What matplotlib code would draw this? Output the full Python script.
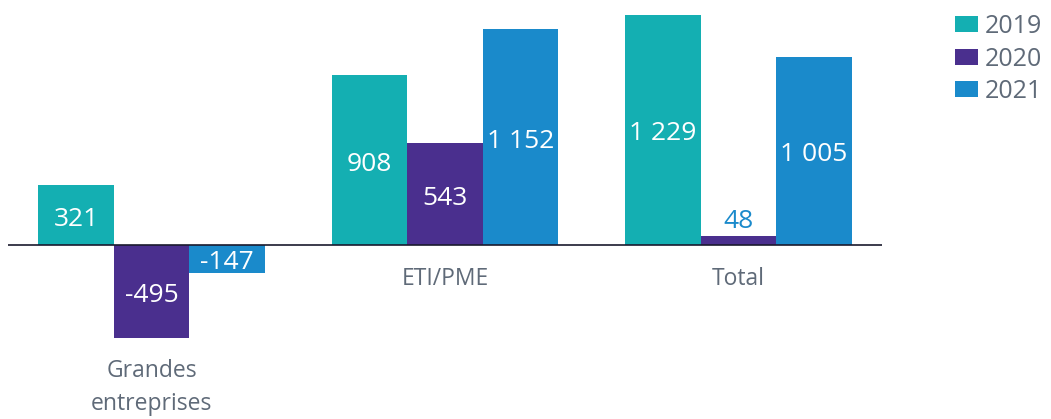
import matplotlib
matplotlib.use("Agg")
import matplotlib.pyplot as plt
import numpy as np

categories = ["Grandes\nentreprises", "ETI/PME", "Total"]
years = ["2019", "2020", "2021"]
values_2019 = [321, 908, 1229]
values_2020 = [-495, 543, 48]
values_2021 = [-147, 1152, 1005]
value_labels = [["321", "908", "1 229"], ["-495", "543", "48"], ["-147", "1 152", "1 005"]]

colors = ["#14AFB2", "#4A2F8E", "#1A8ACB"]
text_grey = "#5F6A78"
plt.rcParams['font.family'] = ['Open Sans', 'DejaVu Sans']

fig = plt.figure(figsize=(10.51, 4.19), dpi=100)
ax = fig.add_axes([8/1051, 0, 874/1051, 1])
x = np.arange(len(categories))
w = 0.257
series = [values_2019, values_2020, values_2021]
for i, (vals, col, yr) in enumerate(zip(series, colors, years)):
    pos = x + (i - 1) * w
    bars = ax.bar(pos, vals, width=w, color=col, label=yr)
    for j, (b, v) in enumerate(zip(bars, vals)):
        lab = value_labels[i][j]
        if abs(v) < 100:
            ax.text(b.get_x() + w/2, v + 10, lab, ha="center", va="bottom",
                    color=colors[2], fontsize=19)
        else:
            ax.text(b.get_x() + w/2, v/2 - 22, lab, ha="center", va="center",
                    color="white", fontsize=19)

ax.axhline(0, color="#1A1A2E", lw=1.2)
ax.set_xlim(-0.489, 2.489)
ax.set_ylim(-928, 1307)
for j, c in enumerate(categories):
    low = min(0, values_2019[j], values_2020[j], values_2021[j])
    ax.text(x[j], low - 115, c, ha="center", va="top", color=text_grey,
            fontsize=16.5, linespacing=1.5)
ax.axis("off")

leg = fig.legend(loc="upper left", bbox_to_anchor=(955/1051, 1 - 14/419),
                 frameon=False, fontsize=18, handlelength=0.9, handleheight=0.6,
                 handletextpad=0.3, labelspacing=0.3, borderpad=0, borderaxespad=0,
                 labelcolor=text_grey)
fig.savefig("out.png", dpi=100)
